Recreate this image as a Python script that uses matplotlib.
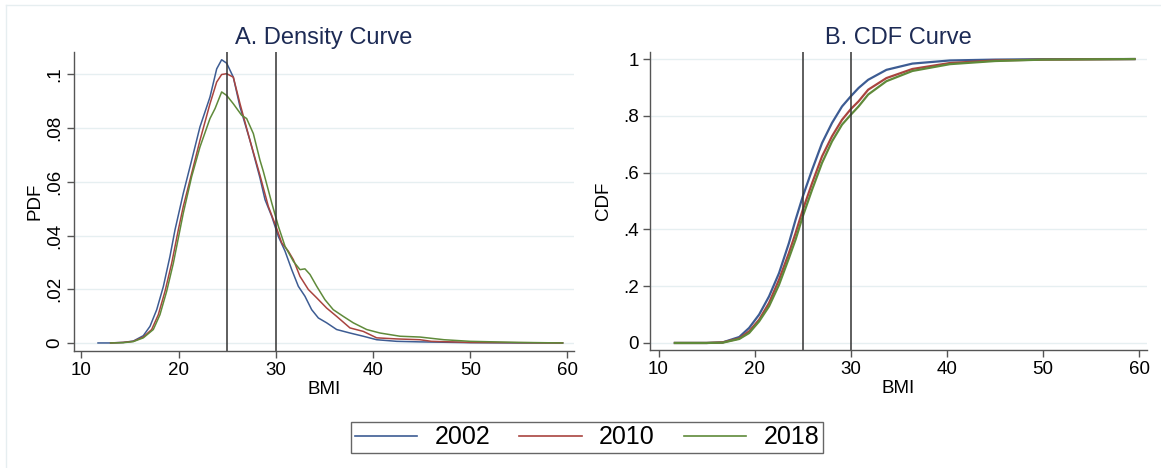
import matplotlib.pyplot as plt
from matplotlib.lines import Line2D

plt.rcParams['font.family'] = ['Liberation Sans', 'DejaVu Sans']

years = ['2002', '2010', '2018']
colors = ['#3d5c93', '#a9443f', '#5f8a3a']

# density curves (BMI, PDF)
bmi_2002 = [11.7, 12.93, 14.3, 15.33, 16.36, 17.05, 17.74, 18.42, 19.1, 19.62, 20.47, 21.33, 22.19, 23.22,
            23.91, 24.42, 24.94, 25.62, 26.31, 27.33, 28.36, 28.88, 29.57, 30.25, 30.94, 31.63, 32.31,
            32.99, 33.68, 34.37, 35.22, 36.25, 37.62, 38.99, 40.37, 42.43, 44.82, 50.0, 55.0, 59.5]
pdf_2002 = [0.0, 0.0, 0.0002, 0.0007, 0.0027, 0.0062, 0.0124, 0.021, 0.0322, 0.0421, 0.0557, 0.068,
            0.0805, 0.0916, 0.1021, 0.1055, 0.1042, 0.099, 0.0879, 0.0755, 0.0615, 0.0534, 0.0472,
            0.0397, 0.0342, 0.0273, 0.0211, 0.0174, 0.0124, 0.0093, 0.0075, 0.005, 0.0037, 0.0025,
            0.0012, 0.0006, 0.0004, 0.0001, 0.0, 0.0]

bmi_2010 = [13.0, 14.3, 15.33, 16.36, 17.22, 17.9, 18.59, 19.28, 19.96, 20.47, 21.33, 22.19, 23.22, 23.91,
            24.42, 24.94, 25.62, 26.31, 27.33, 28.36, 29.22, 30.0, 30.6, 31.28, 31.8, 32.48, 33.34,
            34.2, 35.22, 36.25, 37.62, 38.99, 40.37, 42.43, 44.82, 46.0, 50.0, 55.0, 59.5]
pdf_2010 = [0.0, 0.0002, 0.0006, 0.0022, 0.005, 0.0105, 0.0192, 0.0297, 0.0421, 0.0508, 0.0631, 0.0755,
            0.0891, 0.0972, 0.1, 0.1003, 0.099, 0.0891, 0.0755, 0.0625, 0.0509, 0.0435, 0.0373, 0.0342,
            0.031, 0.0248, 0.0199, 0.0168, 0.013, 0.0099, 0.0056, 0.0043, 0.0019, 0.0015, 0.0012,
            0.0006, 0.0002, 0.0001, 0.0]

bmi_2018 = [13.0, 14.3, 15.33, 16.36, 17.39, 18.07, 18.76, 19.45, 20.13, 20.47, 21.33, 22.19, 23.22,
            23.74, 24.42, 24.94, 25.62, 26.48, 26.99, 27.68, 28.36, 28.7, 29.57, 30.25, 30.94, 31.8,
            32.48, 32.99, 33.51, 34.2, 35.05, 35.9, 36.93, 37.96, 39.34, 40.71, 42.77, 44.82, 47.3,
            50.0, 55.0, 59.5]
pdf_2018 = [0.0, 0.0001, 0.0005, 0.0019, 0.005, 0.0105, 0.0192, 0.0297, 0.0421, 0.0483, 0.0619, 0.073,
            0.0836, 0.0873, 0.0935, 0.0922, 0.0891, 0.0848, 0.0836, 0.078, 0.0681, 0.064, 0.0522,
            0.0435, 0.036, 0.0304, 0.0273, 0.0276, 0.0255, 0.0211, 0.0161, 0.0124, 0.0099, 0.0075,
            0.005, 0.0037, 0.0025, 0.0022, 0.0012, 0.0006, 0.0002, 0.0]

# cumulative curves
cdf_bmi = [11.7, 15.0, 16.66, 18.39, 19.42, 20.46, 21.49, 22.53, 23.56, 24.25, 25.0, 25.97, 27.0, 28.04,
           29.08, 30.0, 30.8, 31.8, 33.7, 36.4, 40.3, 45.0, 50.0, 59.5]
cdf_2002 = [0.0, 0.0, 0.002, 0.021, 0.053, 0.1, 0.164, 0.246, 0.352, 0.434, 0.516, 0.61, 0.704, 0.775,
            0.833, 0.869, 0.898, 0.927, 0.962, 0.984, 0.995, 0.998, 0.9995, 1.0]
cdf_2010 = [0.0, 0.0, 0.002, 0.016, 0.041, 0.082, 0.141, 0.223, 0.317, 0.387, 0.469, 0.563, 0.657, 0.728,
            0.786, 0.824, 0.851, 0.892, 0.933, 0.965, 0.986, 0.995, 0.998, 1.0]
cdf_2018 = [0.0, 0.0, 0.001, 0.014, 0.035, 0.076, 0.129, 0.205, 0.299, 0.364, 0.446, 0.54, 0.634, 0.71,
            0.769, 0.804, 0.833, 0.875, 0.922, 0.958, 0.982, 0.993, 0.998, 1.0]

cutoffs = [25, 30]
xticks = [10, 20, 30, 40, 50, 60]
pdf_ticks = [0, 0.02, 0.04, 0.06, 0.08, 0.1]
pdf_labels = ['0', '.02', '.04', '.06', '.08', '.1']
cdf_ticks = [0, 0.2, 0.4, 0.6, 0.8, 1.0]
cdf_labels = ['0', '.2', '.4', '.6', '.8', '1']

title_color = '#1d2b55'
grid_color = '#e6eff1'
axis_color = '#555555'

fig = plt.figure(figsize=(11.61, 4.68), dpi=100)
ax1 = fig.add_axes([74 / 1161, 0.25, 500 / 1161, 0.639])
ax2 = fig.add_axes([650 / 1161, 0.252, 497 / 1161, 0.637])


def style(ax):
    for s in ['top', 'right']:
        ax.spines[s].set_visible(False)
    for s in ['left', 'bottom']:
        ax.spines[s].set_color(axis_color)
        ax.spines[s].set_linewidth(1.0)
    ax.tick_params(direction='out', length=5, width=1, color=axis_color, labelsize=13.5, pad=3)
    ax.set_xticks(xticks)
    ax.set_xlabel('BMI', fontsize=13.5, labelpad=1)


# panel A
for x, y, c in zip([bmi_2002, bmi_2010, bmi_2018], [pdf_2002, pdf_2010, pdf_2018], colors):
    ax1.plot(x, y, color=c, lw=1.1)
for v in cutoffs:
    ax1.axvline(v, color='#333333', lw=1.1)
style(ax1)
ax1.set_xlim(9.23, 60.67)
ax1.set_ylim(-0.003, 0.1084)
ax1.set_yticks(pdf_ticks)
ax1.set_yticklabels(pdf_labels, rotation=90, va='center')
for t in pdf_ticks:
    ax1.axhline(t, color=grid_color, lw=1, zorder=0)
ax1.set_ylabel('PDF', fontsize=13.5, labelpad=2)
ax1.set_title('A. Density Curve', fontsize=17, color=title_color, pad=6)

# panel B
for y, c in zip([cdf_2002, cdf_2010, cdf_2018], colors):
    ax2.plot(cdf_bmi, y, color=c, lw=1.6)
for v in cutoffs:
    ax2.axvline(v, color='#333333', lw=1.1)
style(ax2)
ax2.set_xlim(9.11, 60.8)
ax2.set_ylim(-0.025, 1.025)
ax2.set_yticks(cdf_ticks)
ax2.set_yticklabels(cdf_labels)
for t in cdf_ticks:
    ax2.axhline(t, color=grid_color, lw=1, zorder=0)
ax2.set_ylabel('CDF', fontsize=13.5, labelpad=8)
ax2.set_title('B. CDF Curve', fontsize=17, color=title_color, pad=6)

handles = [Line2D([], [], color=c, lw=1.2) for c in colors]
leg = fig.legend(handles, years, loc='center', bbox_to_anchor=(587 / 1161, 1 - 437.5 / 468), ncol=3,
                 fontsize=18, handlelength=2.5, handletextpad=0.7, columnspacing=1.15,
                 fancybox=False, edgecolor='#666666', framealpha=1, borderpad=0.15, borderaxespad=0)
leg.get_frame().set_linewidth(1.0)

# faint outer border
fig.add_artist(Line2D([6 / 1161, 1], [1 - 5 / 468, 1 - 5 / 468], color='#e6eef0', lw=1))
fig.add_artist(Line2D([6 / 1161, 6 / 1161], [1 - 5 / 468, 0], color='#e6eef0', lw=1))

fig.savefig('out.png', dpi=100, facecolor='white')
